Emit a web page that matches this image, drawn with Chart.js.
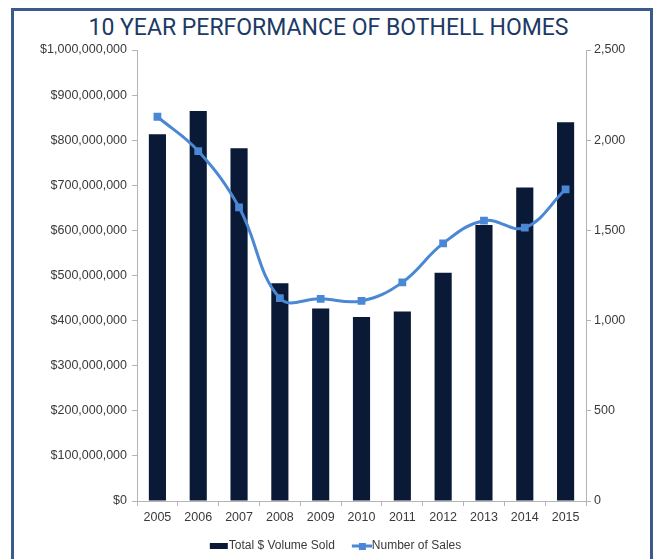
<!DOCTYPE html>
<html>
<head>
<meta charset="utf-8">
<title>10 Year Performance of Bothell Homes</title>
<script src="https://cdn.jsdelivr.net/npm/chart.js@4.4.1/dist/chart.umd.min.js"></script>
<style>
    html, body { margin: 0; padding: 0; background: #fff; }
    #wrap { position: relative; width: 660px; height: 559px; overflow: hidden; }
    #frame {
        position: absolute; left: 11px; top: 8px; width: 642px; height: 600px;
        border: 3px solid #3a5a8e; box-sizing: border-box;
    }
    #title {
        position: absolute; left: 0; top: 16px; width: 657px; text-align: center;
        font: 400 23px/23px Roboto, sans-serif; color: #1b3a66; white-space: nowrap;
    }
    #chart { position: absolute; left: 0; top: 0; }
</style>
</head>
<body>
<div id="wrap">
    <div id="frame"></div>
    <div id="title">10 YEAR PERFORMANCE OF BOTHELL HOMES</div>
    <canvas id="chart" width="660" height="562"></canvas>
</div>
<script>
// values
const years = ['2005', '2006', '2007', '2008', '2009', '2010', '2011', '2012', '2013', '2014', '2015'];
const volumeSold = [813e6, 865e6, 782e6, 483e6, 427e6, 408e6, 420e6, 506e6, 612e6, 695e6, 840e6];
const numberOfSales = [2130, 1940, 1628, 1124, 1121, 1109, 1212, 1428, 1554, 1515, 1728];
const volumeTicks = [0, 1e8, 2e8, 3e8, 4e8, 5e8, 6e8, 7e8, 8e8, 9e8, 1e9];
const salesTicks = [0, 500, 1000, 1500, 2000, 2500];

const BAR_COLOR = '#0a1936';
const LINE_COLOR = '#4a87d4';
const AXIS_COLOR = '#b4b4b4';
const TEXT_COLOR = '#3a3a3a';
const tickFont = { family: '"Liberation Sans", Arial, sans-serif', size: 12.5 };

// legend symbols: drawn at the right end of a 36px image so they sit right before the text
function legendBar() {
    const c = document.createElement('canvas');
    c.width = 36; c.height = 6;
    const g = c.getContext('2d');
    g.fillStyle = BAR_COLOR;
    g.fillRect(17, 0, 18, 6);
    return c;
}
function legendLine() {
    const c = document.createElement('canvas');
    c.width = 36; c.height = 7;
    const g = c.getContext('2d');
    g.strokeStyle = LINE_COLOR;
    g.lineWidth = 3;
    g.beginPath(); g.moveTo(16, 3.5); g.lineTo(36, 3.5); g.stroke();
    g.fillStyle = LINE_COLOR;
    g.fillRect(23, 0, 7, 7);
    return c;
}

new Chart(document.getElementById('chart'), {
    data: {
        labels: years,
        datasets: [{
            type: 'bar',
            label: 'Total $ Volume Sold',
            data: volumeSold,
            yAxisID: 'y',
            backgroundColor: BAR_COLOR,
            categoryPercentage: 1,
            barPercentage: 0.42,
            order: 2
        }, {
            type: 'line',
            label: 'Number of Sales',
            data: numberOfSales,
            yAxisID: 'y1',
            borderColor: LINE_COLOR,
            backgroundColor: LINE_COLOR,
            borderWidth: 3,
            tension: 0.4,
            pointStyle: 'rect',
            pointRadius: 5.5,
            pointBorderWidth: 0,
            order: 1
        }]
    },
    options: {
        responsive: false,
        animation: false,
        layout: { padding: { top: 50, left: 0, right: 0, bottom: 0 } },
        plugins: {
            legend: {
                position: 'bottom',
                labels: {
                    usePointStyle: true,
                    pointStyleWidth: 24,
                    padding: 7,
                    color: TEXT_COLOR,
                    font: { family: '"Liberation Sans", Arial, sans-serif', size: 12 },
                    generateLabels: () => [
                        { text: 'Total $ Volume Sold', pointStyle: legendBar(), datasetIndex: 0, fontColor: TEXT_COLOR },
                        { text: 'Number of Sales', pointStyle: legendLine(), datasetIndex: 1, fontColor: TEXT_COLOR }
                    ]
                }
            },
            tooltip: { enabled: false }
        },
        scales: {
            x: {
                afterFit: (s) => { s.height = 32; },
                grid: { drawOnChartArea: false, color: AXIS_COLOR, tickLength: 5 },
                border: { color: AXIS_COLOR },
                ticks: { color: TEXT_COLOR, font: tickFont, padding: 4, maxRotation: 0 }
            },
            y: {
                position: 'left',
                min: 0,
                max: 1e9,
                afterBuildTicks: (s) => { s.ticks = volumeTicks.map(v => ({ value: v })); },
                afterFit: (s) => { s.width = 137; },
                grid: { drawOnChartArea: false, color: AXIS_COLOR, tickLength: 5 },
                border: { color: AXIS_COLOR },
                ticks: {
                    color: TEXT_COLOR, font: tickFont, padding: 5,
                    callback: (v) => '$' + Number(v).toLocaleString('en-US')
                }
            },
            y1: {
                position: 'right',
                min: 0,
                max: 2500,
                afterBuildTicks: (s) => { s.ticks = salesTicks.map(v => ({ value: v })); },
                afterFit: (s) => { s.width = 74; },
                grid: { drawOnChartArea: false, color: AXIS_COLOR, tickLength: 5 },
                border: { color: AXIS_COLOR },
                ticks: {
                    color: TEXT_COLOR, font: tickFont, padding: 3,
                    callback: (v) => Number(v).toLocaleString('en-US')
                }
            }
        }
    }
});
</script>
</body>
</html>
